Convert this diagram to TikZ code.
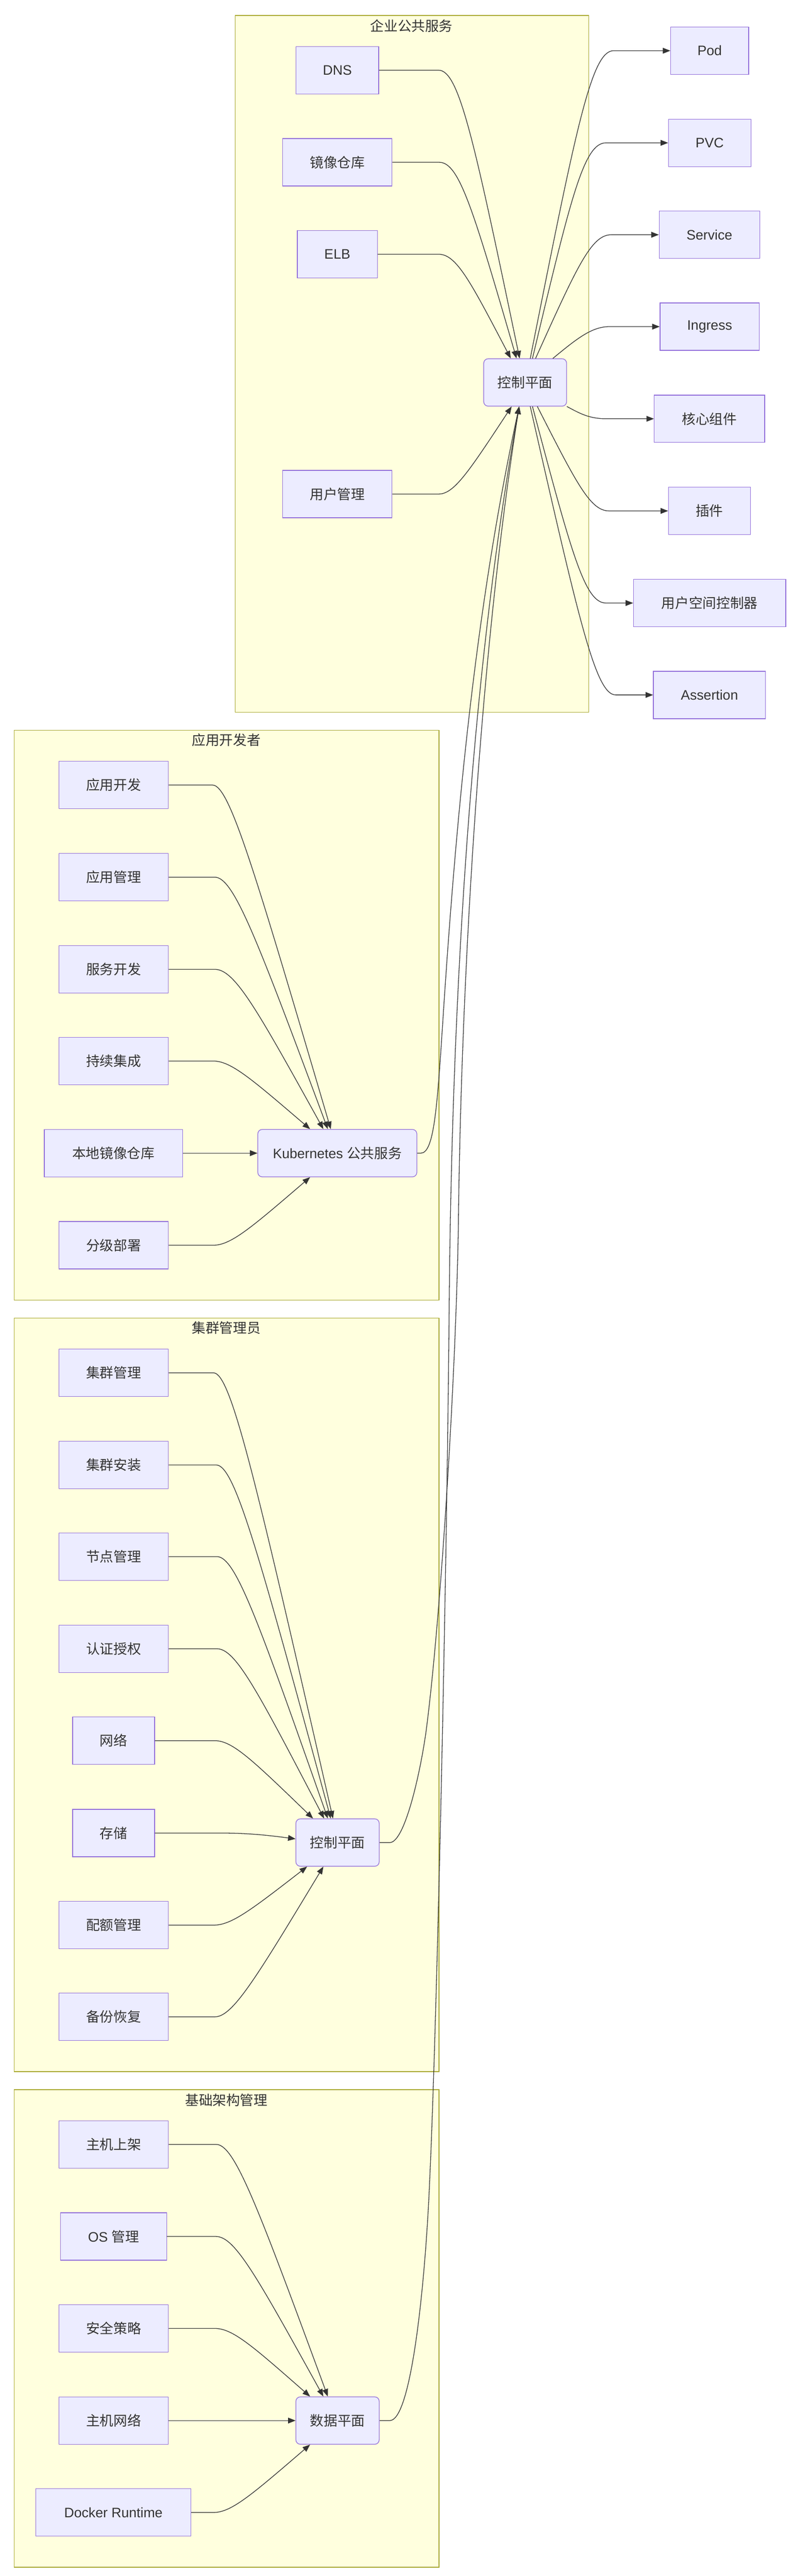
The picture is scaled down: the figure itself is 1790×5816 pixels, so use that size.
\documentclass[tikz,border=0pt]{standalone}
\usepackage{fontspec}
\setmainfont{Liberation Sans}
\newfontfamily\cjk{Noto Sans CJK SC}
\usetikzlibrary{arrows.meta}
\definecolor{nodefill}{HTML}{ECECFF}
\definecolor{nodeline}{HTML}{9370DB}
\definecolor{grpfill}{HTML}{FFFFDE}
\definecolor{grpline}{HTML}{AAAA33}
\definecolor{txt}{HTML}{333333}
\definecolor{edgecol}{HTML}{333333}
\begin{document}
\begin{tikzpicture}[x=1pt,y=-1pt,
  box/.style={draw=nodeline, fill=nodefill, line width=1.5pt, inner sep=0pt, minimum height=107pt, text=txt, font=\fontsize{31}{37}\selectfont},
  rbox/.style={box, rounded corners=10pt},
  grp/.style={draw=grpline, fill=grpfill, line width=1.5pt, inner sep=0pt},
  gtitle/.style={text=txt, font=\fontsize{31}{37}\selectfont\cjk, inner sep=0pt},
  arr/.style={draw=edgecol, line width=1.5pt, -{Triangle[length=17pt,width=13pt]}}
]
\useasboundingbox (0,0) rectangle (1790,5816);
\fill[white] (0,0) rectangle (1790,5816);

% groups
\node[grp, minimum width=798pt, minimum height=1573pt] (g1) at (930,821.5) {};
\node[gtitle] (t1) at (929,58) {企业公共服务};
\node[grp, minimum width=959pt, minimum height=1286pt] (g2) at (511.5,2292) {};
\node[gtitle] (t2) at (511,1671) {应用开发者};
\node[grp, minimum width=959pt, minimum height=1701pt] (g3) at (511.5,3826.5) {};
\node[gtitle] (t3) at (511,2998) {集群管理员};
\node[grp, minimum width=959pt, minimum height=1078pt] (g4) at (511.5,5257) {};
\node[gtitle] (t4) at (511,4741) {基础架构管理};

% group 1 nodes
\node[box, minimum width=187pt] (dns) at (761.5,158.5) {DNS};
\node[box, minimum width=247pt] (reg) at (761.5,366.5) {\cjk 镜像仓库};
\node[box, minimum width=181pt] (elb) at (761.5,574) {ELB};
\node[box, minimum width=247pt] (um) at (761.5,1115.5) {\cjk 用户管理};
\node[rbox, minimum width=187pt] (cp1) at (1185.5,863.5) {\cjk 控制平面};
\node[box, minimum width=176pt] (pod) at (1602,114.5) {Pod};
\node[box, minimum width=186pt] (pvc) at (1602,322.5) {PVC};
\node[box, minimum width=227pt] (svc) at (1601.5,530) {Service};
\node[box, minimum width=224pt] (ing) at (1602,737.5) {Ingress};
\node[box, minimum width=249pt] (core) at (1601.5,945.5) {\cjk 核心组件};
\node[box, minimum width=185pt] (plug) at (1601.5,1153.5) {\cjk 插件};
\node[box, minimum width=344pt] (uctl) at (1602,1361.5) {\cjk 用户空间控制器};
\node[box, minimum width=253pt] (asrt) at (1601.5,1569) {Assertion};

% group 2 nodes
\node[box, minimum width=247pt] (appdev) at (256.5,1772.5) {\cjk 应用开发};
\node[box, minimum width=247pt] (appmgr) at (256.5,1980.5) {\cjk 应用管理};
\node[box, minimum width=247pt] (svcdev) at (256.5,2188.5) {\cjk 服务开发};
\node[box, minimum width=247pt] (ci) at (256.5,2395.5) {\cjk 持续集成};
\node[box, minimum width=312pt] (lreg) at (256,2603.5) {\cjk 本地镜像仓库};
\node[box, minimum width=247pt] (deploy) at (256.5,2811.5) {\cjk 分级部署};
\node[rbox, minimum width=359pt] (k8s) at (761.5,2603.5) {Kubernetes {\cjk 公共服务}};

% group 3 nodes
\node[box, minimum width=247pt] (cm) at (256.5,3099.5) {\cjk 集群管理};
\node[box, minimum width=247pt] (cinst) at (256.5,3307.5) {\cjk 集群安装};
\node[box, minimum width=247pt] (nm) at (256.5,3514.5) {\cjk 节点管理};
\node[box, minimum width=247pt] (auth) at (256.5,3722.5) {\cjk 认证授权};
\node[box, minimum width=185pt] (net) at (256.5,3930) {\cjk 网络};
\node[box, minimum width=185pt] (stor) at (256.5,4138.5) {\cjk 存储};
\node[box, minimum width=247pt] (quota) at (256.5,4346.5) {\cjk 配额管理};
\node[box, minimum width=247pt] (bak) at (256.5,4553.5) {\cjk 备份恢复};
\node[rbox, minimum width=188pt] (cp2) at (762,4160) {\cjk 控制平面};

% group 4 nodes
\node[box, minimum width=247pt] (rack) at (256.5,4841.5) {\cjk 主机上架};
\node[box, minimum width=239pt] (os) at (256.5,5049.5) {OS {\cjk 管理}};
\node[box, minimum width=247pt] (sec) at (256.5,5257) {\cjk 安全策略};
\node[box, minimum width=247pt] (hnet) at (256.5,5465) {\cjk 主机网络};
\node[box, minimum width=350pt] (dock) at (256,5672.5) {Docker Runtime};
\node[rbox, minimum width=188pt] (dp) at (762,5465) {\cjk 数据平面};

% group 1 incoming
\draw[arr] (dns.east) -- (990,158.5) .. controls (1037,158.5) and (1071,321.4) .. ([xshift=-12.5pt]cp1.north);
\draw[arr] (reg.east) -- (992,366.5) .. controls (1037,366.5) and (1069.25,477.4) .. ([xshift=-19.5pt]cp1.north);
\draw[arr] (elb.east) -- (990,574) .. controls (1030,574) and (1060.75,633) .. ([xshift=-32.5pt]cp1.north);
\draw[arr] (um.east) -- (990,1115.5) .. controls (1025,1115.5) and (1057.5,1065.9) .. ([xshift=-30.5pt]cp1.south);

% group 1 outgoing
\draw[arr] ([xshift=11.5pt]cp1.north) .. controls (1300.5,288.4) and (1335,114.5) .. (1385,114.5) -- (pod.west);
\draw[arr] ([xshift=16.5pt]cp1.north) .. controls (1289,444.4) and (1318,322.5) .. (1368,322.5) -- (pvc.west);
\draw[arr] ([xshift=23.5pt]cp1.north) .. controls (1303.5,600) and (1335,530) .. (1380,530) -- (svc.west);
\draw[arr] ([xshift=62.5pt]cp1.north) .. controls (1300,766.5) and (1335,737.5) .. (1375,737.5) -- (ing.west);
\draw[arr] (cp1.south east) .. controls (1310.6,934.5) and (1331,945.5) .. (1370,945.5) -- (core.west);
\draw[arr] ([xshift=27.5pt]cp1.south) .. controls (1303,1094.4) and (1333,1153.5) .. (1375,1153.5) -- (plug.west);
\draw[arr] ([xshift=16.5pt]cp1.south) .. controls (1290.5,1250.4) and (1320,1361.5) .. (1368,1361.5) -- (uctl.west);
\draw[arr] ([xshift=11.5pt]cp1.south) .. controls (1308,1406) and (1345,1569) .. (1390,1569) -- (asrt.west);

% group 2
\draw[arr] (appdev.east) -- (480,1772.5) .. controls (518,1772.5) and (575.2,1966.9) .. ([xshift=-14.8pt]k8s.north);
\draw[arr] (appmgr.east) -- (485,1980.5) .. controls (528,1980.5) and (581,2122.9) .. ([xshift=-21.5pt]k8s.north);
\draw[arr] (svcdev.east) -- (485,2188.5) .. controls (530,2188.5) and (580,2278.9) .. ([xshift=-31.5pt]k8s.north);
\draw[arr] (ci.east) -- (481,2395.5) .. controls (521,2395.5) and (565.75,2434.1) .. ([xshift=-61.5pt]k8s.north);
\draw[arr] (lreg.east) -- (k8s.west);
\draw[arr] (deploy.east) -- (481,2811.5) .. controls (521,2811.5) and (565.75,2773.1) .. ([xshift=-61.5pt]k8s.south);

% group 3
\draw[arr] (cm.east) -- (482,3099.5) .. controls (522,3099.5) and (579.4,3351.3) .. ([xshift=-10.3pt]cp2.north);
\draw[arr] (cinst.east) -- (488,3307.5) .. controls (530,3307.5) and (584.2,3507.3) .. ([xshift=-15.3pt]cp2.north);
\draw[arr] (nm.east) -- (490,3514.5) .. controls (532,3514.5) and (584,3662.6) .. ([xshift=-22pt]cp2.north);
\draw[arr] (auth.east) -- (490,3722.5) .. controls (532,3722.5) and (581.9,3818.6) .. ([xshift=-30.3pt]cp2.north);
\draw[arr] (net.east) -- (485,3930) .. controls (525,3930) and (570.4,3974.2) .. ([xshift=-55.3pt]cp2.north);
\draw[arr] (stor.east) -- (490,4138.5) .. controls (560,4138.5) and (600,4143) .. ([yshift=8.3pt]cp2.west);
\draw[arr] (quota.east) -- (482,4346.5) .. controls (522,4346.5) and (564.8,4313.8) .. ([xshift=-68.7pt]cp2.south);
\draw[arr] (bak.east) -- (485,4553.5) .. controls (525,4553.5) and (576.25,4469) .. ([xshift=-32pt]cp2.south);

% group 4
\draw[arr] (rack.east) -- (488,4841.5) .. controls (530,4841.5) and (582.5,4983.9) .. ([xshift=-22pt]dp.north);
\draw[arr] (os.east) -- (488,5049.5) .. controls (530,5049.5) and (580,5139.9) .. ([xshift=-32pt]dp.north);
\draw[arr] (sec.east) -- (485,5257) .. controls (525,5257) and (568.75,5295.5) .. ([xshift=-62pt]dp.north);
\draw[arr] (hnet.east) -- (dp.west);
\draw[arr] (dock.east) -- (482,5672.5) .. controls (522,5672.5) and (566.5,5634.1) .. ([xshift=-62pt]dp.south);

% long edges to control plane
\draw[arr] (k8s.east) -- (950,2603.5) .. controls (980,2603.5) and (987,2500) .. (1000,2300) .. controls (1030,1840) and (1073,1377) .. ([xshift=-13.5pt]cp1.south);
\draw[arr] (cp2.east) -- (880,4160) .. controls (915,4160) and (951.5,3990) .. (963,3900) .. controls (995,3650) and (1030,3100) .. (1035,2750) .. controls (1040,2300) and (1075,1530) .. ([xshift=-13.5pt]cp1.south);
\draw[arr] (dp.east) -- (880,5465) .. controls (925,5465) and (955,5200) .. (967,4984) .. controls (985,4650) and (1008,3600) .. (1014,2950) .. controls (1020,2250) and (1064,1517) .. ([xshift=-13.5pt]cp1.south);
\end{tikzpicture}
\end{document}
